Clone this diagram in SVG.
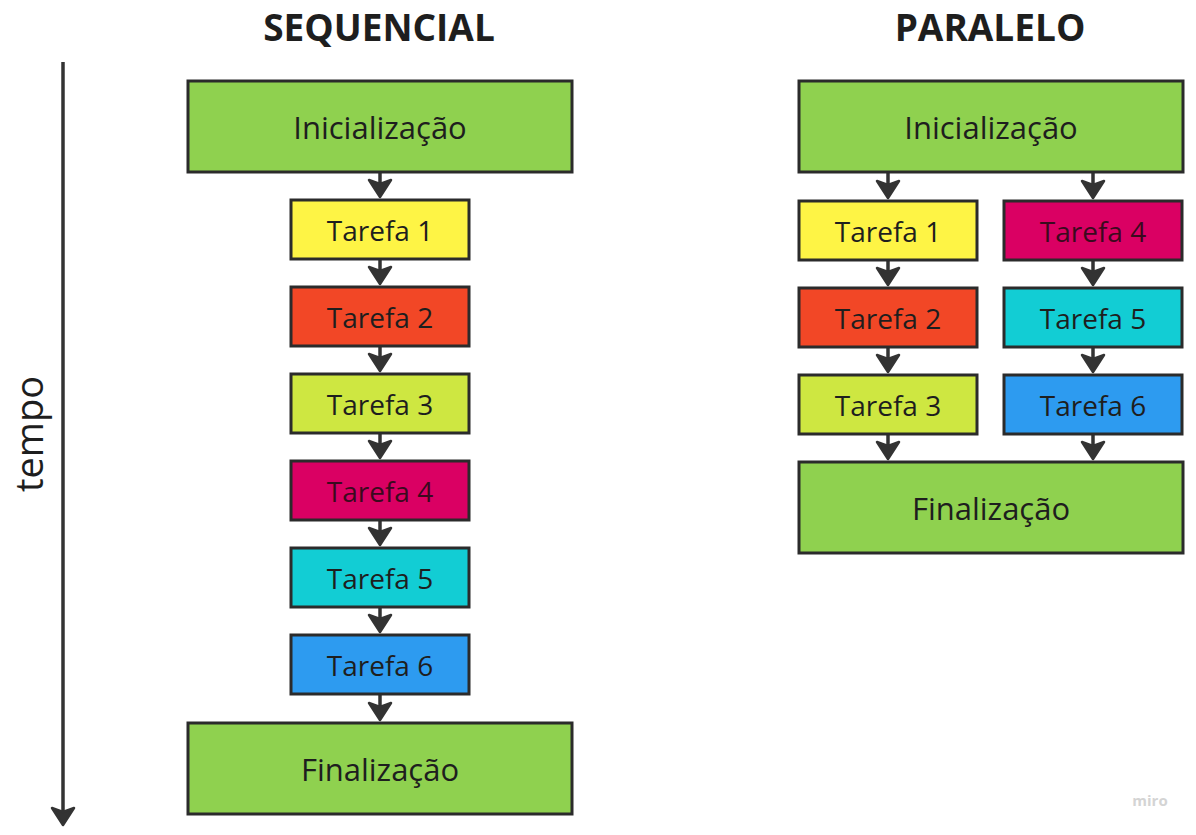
<svg xmlns="http://www.w3.org/2000/svg" width="1196" height="835" viewBox="0 0 1196 835">
<style>
.box{stroke:#2b2b2b;stroke-width:3}
.lbl{font-family:"Open Sans","Noto Sans",sans-serif;font-size:28px;fill:#1e1e1e;text-anchor:middle;dominant-baseline:central}
.big{font-size:31px}
.title{font-family:"Open Sans","Noto Sans",sans-serif;font-weight:bold;font-size:37px;fill:#1e1e1e;text-anchor:middle}
.ln{stroke:#333;stroke-width:3.5;fill:none}
.hd{fill:#333;stroke:#333;stroke-width:2.5;stroke-linejoin:round}
.g{fill:#8fd14f}.y{fill:#fef445}.r{fill:#f24726}.l{fill:#cee741}.m{fill:#da0063}.c{fill:#12cdd4}.b{fill:#2d9bf0}
</style>
<defs>
<path id="ah" class="hd" d="M-11,-18 L0,-14 L11,-18 L0,-1 Z"/>
</defs>
<text class="title" x="379" y="41">SEQUENCIAL</text>
<text class="title" x="990" y="41">PARALELO</text>
<text x="28" y="434" transform="rotate(-90 28 434)" font-family="'Open Sans','Noto Sans',sans-serif" font-size="38" fill="#1e1e1e" text-anchor="middle" dominant-baseline="central">tempo</text>
<text x="1150" y="806" font-family="'Open Sans','Noto Sans',sans-serif" font-size="15" font-weight="bold" fill="#d4d4d4" text-anchor="middle">miro</text>
<g id="connectors">
<path class="ln" d="M63,62 V815"/><use href="#ah" x="63" y="826"/>
<path class="ln" d="M380,173 V188"/><use href="#ah" x="380" y="198"/>
<path class="ln" d="M380,260 V275"/><use href="#ah" x="380" y="285"/>
<path class="ln" d="M380,347 V362"/><use href="#ah" x="380" y="372"/>
<path class="ln" d="M380,434 V449"/><use href="#ah" x="380" y="459"/>
<path class="ln" d="M380,521 V536"/><use href="#ah" x="380" y="546"/>
<path class="ln" d="M380,608 V623"/><use href="#ah" x="380" y="633"/>
<path class="ln" d="M380,695 V711"/><use href="#ah" x="380" y="721"/>
<path class="ln" d="M888,173 V189"/><use href="#ah" x="888" y="199"/>
<path class="ln" d="M1093,173 V189"/><use href="#ah" x="1093" y="199"/>
<path class="ln" d="M888,261 V276"/><use href="#ah" x="888" y="286"/>
<path class="ln" d="M1093,261 V276"/><use href="#ah" x="1093" y="286"/>
<path class="ln" d="M888,348 V363"/><use href="#ah" x="888" y="373"/>
<path class="ln" d="M1093,348 V363"/><use href="#ah" x="1093" y="373"/>
<path class="ln" d="M888,435 V450"/><use href="#ah" x="888" y="460"/>
<path class="ln" d="M1093,435 V450"/><use href="#ah" x="1093" y="460"/>
</g>
<g id="s-init"><rect class="box g" x="188" y="81" width="384" height="91"/><text class="lbl big" x="380" y="127">Inicialização</text></g>
<g id="s-t1"><rect class="box y" x="291" y="200" width="178" height="59"/><text class="lbl" x="380" y="230">Tarefa 1</text></g>
<g id="s-t2"><rect class="box r" x="291" y="287" width="178" height="59"/><text class="lbl" x="380" y="317">Tarefa 2</text></g>
<g id="s-t3"><rect class="box l" x="291" y="374" width="178" height="59"/><text class="lbl" x="380" y="404">Tarefa 3</text></g>
<g id="s-t4"><rect class="box m" x="291" y="461" width="178" height="59"/><text class="lbl" x="380" y="491" style="fill:#3a0a1e">Tarefa 4</text></g>
<g id="s-t5"><rect class="box c" x="291" y="548" width="178" height="59"/><text class="lbl" x="380" y="578">Tarefa 5</text></g>
<g id="s-t6"><rect class="box b" x="291" y="635" width="178" height="59"/><text class="lbl" x="380" y="665">Tarefa 6</text></g>
<g id="s-fin"><rect class="box g" x="188" y="723" width="384" height="91"/><text class="lbl big" x="380" y="769">Finalização</text></g>
<g id="p-init"><rect class="box g" x="799" y="81" width="384" height="91"/><text class="lbl big" x="991" y="127">Inicialização</text></g>
<g id="p-t1"><rect class="box y" x="799" y="201" width="178" height="59"/><text class="lbl" x="888" y="231">Tarefa 1</text></g>
<g id="p-t2"><rect class="box r" x="799" y="288" width="178" height="59"/><text class="lbl" x="888" y="318">Tarefa 2</text></g>
<g id="p-t3"><rect class="box l" x="799" y="375" width="178" height="59"/><text class="lbl" x="888" y="405">Tarefa 3</text></g>
<g id="p-t4"><rect class="box m" x="1004" y="201" width="178" height="59"/><text class="lbl" x="1093" y="231" style="fill:#3a0a1e">Tarefa 4</text></g>
<g id="p-t5"><rect class="box c" x="1004" y="288" width="178" height="59"/><text class="lbl" x="1093" y="318">Tarefa 5</text></g>
<g id="p-t6"><rect class="box b" x="1004" y="375" width="178" height="59"/><text class="lbl" x="1093" y="405">Tarefa 6</text></g>
<g id="p-fin"><rect class="box g" x="799" y="462" width="384" height="91"/><text class="lbl big" x="991" y="508">Finalização</text></g>
</svg>
